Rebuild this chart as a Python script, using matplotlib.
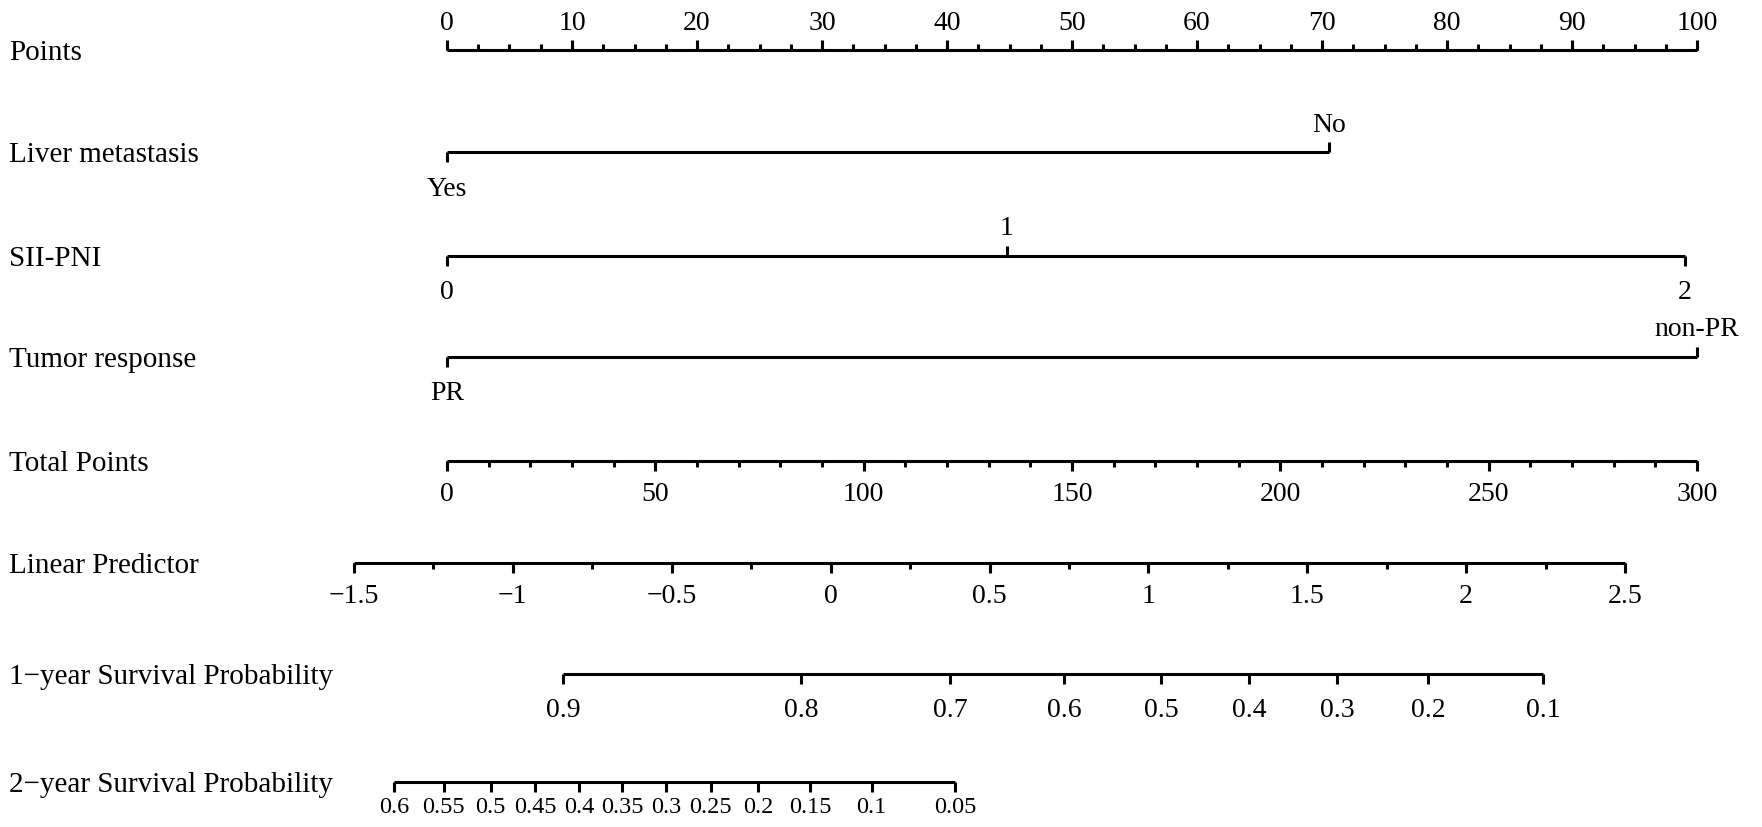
import numpy as np
import matplotlib.pyplot as plt
from matplotlib.transforms import blended_transform_factory

plt.rcParams['font.family'] = ['Liberation Serif', 'DejaVu Serif']

# Data (positions on the 0-100 Points scale)
points_major = np.arange(0, 101, 10)
points_minor = np.arange(0, 100.1, 2.5)

liver_levels = ["Yes", "No"]
liver_points = [0, 70.6]

sii_levels = ["0", "1", "2"]
sii_points = [0, 44.8, 99.0]

tumor_levels = ["PR", "non-PR"]
tumor_points = [0, 100]

total_major = np.arange(0, 301, 50)
total_minor = np.arange(0, 301, 10)

lp_major = [-1.5, -1, -0.5, 0, 0.5, 1, 1.5, 2, 2.5]
lp_major_labels = ["\u22121.5", "\u22121", "\u22120.5", "0", "0.5", "1", "1.5", "2", "2.5"]
lp_minor = np.arange(-1.5, 2.51, 0.25)
lp_range = [-1.5, 2.5]
lp_range_points = [-7.44, 94.24]   # where -1.5 and 2.5 sit on the Points scale

surv1_vals = ["0.9", "0.8", "0.7", "0.6", "0.5", "0.4", "0.3", "0.2", "0.1"]
surv1_total = [27.8, 85.0, 120.7, 148.1, 171.4, 192.5, 213.6, 235.4, 263.0]

surv2_vals = ["0.6", "0.55", "0.5", "0.45", "0.4", "0.35", "0.3", "0.25",
              "0.2", "0.15", "0.1", "0.05"]
surv2_total = [-12.7, -0.8, 10.5, 21.2, 31.7, 42.1, 52.6, 63.3, 74.6, 87.2, 101.9, 122.0]

row_names = ["Points", "Liver metastasis", "SII-PNI", "Tumor response", "Total Points",
             "Linear Predictor", "1\u2212year Survival Probability",
             "2\u2212year Survival Probability"]

# layout (pixel rows)
row_y = [51, 153, 257, 358, 462, 564, 675, 783]
fs = 21
fs_tick = 20
lw = 2.2
big = 10
small = 6

fig = plt.figure(figsize=(17.62, 8.28), dpi=100)
ax = fig.add_axes([0, 0, 1, 1])
ax.set_xlim(-447 / 12.5, (1762 - 447) / 12.5)
ax.set_ylim(828, 0)
ax.axis('off')

lab_tr = blended_transform_factory(ax.transAxes, ax.transData)
for name, y in zip(row_names, row_y):
    ax.text(9 / 1762, y + 2, name, transform=lab_tr, ha='left', va='center', fontsize=fs)


def axis_row(y, pos_major, labels, pos_minor=None, up=False, size=fs_tick, gap=30):
    sgn = -1 if up else 1
    ax.hlines(y, min(pos_major), max(pos_major), color='black', lw=lw)
    ax.vlines(pos_major, y, y + sgn * big, color='black', lw=lw)
    if pos_minor is not None:
        ax.vlines(pos_minor, y, y + sgn * small, color='black', lw=lw)
    for p, t in zip(pos_major, labels):
        ax.text(p, y + sgn * gap, t, ha='center', va='center', fontsize=size)


# Points
axis_row(row_y[0], points_major, [str(v) for v in points_major], points_minor, up=True, gap=27)


def factor_row(y, pts, levels, above):
    ax.hlines(y, min(pts), max(pts), color='black', lw=lw)
    for p, t, a in zip(pts, levels, above):
        sgn = -1 if a else 1
        ax.vlines(p, y, y + sgn * big, color='black', lw=lw)
        gap = 28 if a else 36
        ax.text(p, y + sgn * gap, t, ha='center', va='center', fontsize=fs_tick)


factor_row(row_y[1], liver_points, liver_levels, [False, True])
factor_row(row_y[2], sii_points, sii_levels, [False, True, False])
factor_row(row_y[3], tumor_points, tumor_levels, [False, True])

# Total points
axis_row(row_y[4], total_major / 3, [str(v) for v in total_major], total_minor / 3, gap=33)

# Linear predictor
lp_pos = np.interp(lp_major, lp_range, lp_range_points)
lp_min_pos = np.interp(lp_minor, lp_range, lp_range_points)
axis_row(row_y[5], lp_pos, lp_major_labels, lp_min_pos, gap=33)

# Survival probabilities
axis_row(row_y[6], np.array(surv1_total) / 3, surv1_vals, gap=36)
axis_row(row_y[7], np.array(surv2_total) / 3, surv2_vals, size=17.5, gap=25)

fig.savefig("out.png", dpi=100)
